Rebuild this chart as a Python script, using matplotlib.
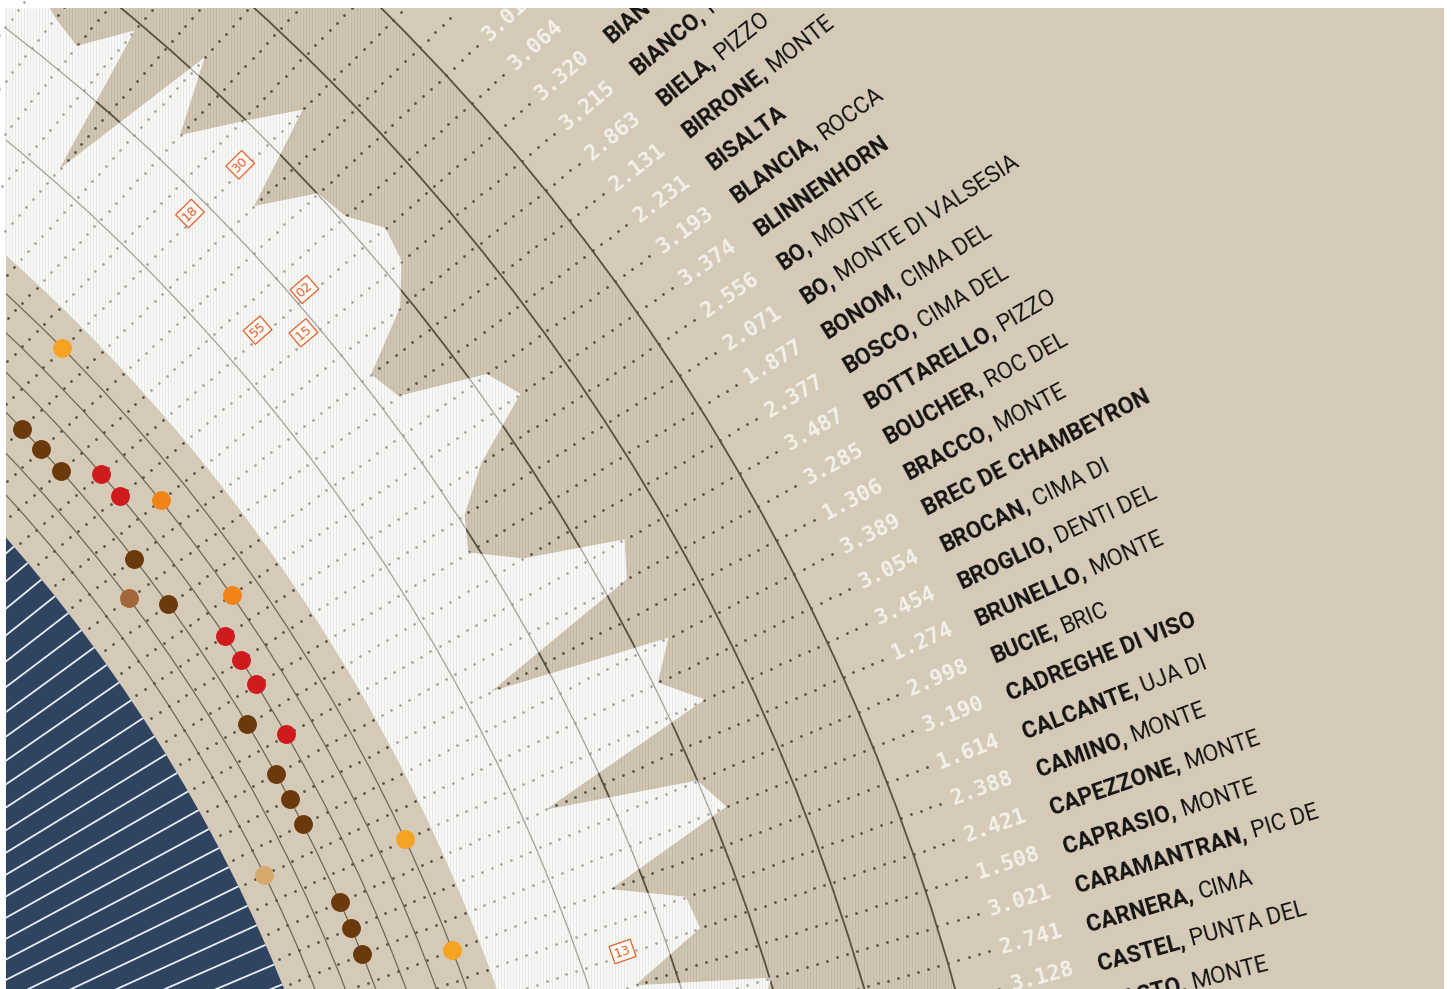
import numpy as np
import matplotlib
matplotlib.use("Agg")
import matplotlib.pyplot as plt
from matplotlib.patches import Circle, Polygon, Wedge, Rectangle
from matplotlib.collections import LineCollection
from matplotlib.font_manager import FontProperties

# ---------------- data ----------------
first_index = -13          # index of the first peak in the lists below
peak_elev_m = [2500, 2600, 2440, 2343, 2903, 1143, 3200, 2354, 2950, 3543, 2377,
               3010, 3064, 3320, 3215, 2863, 2131, 2231, 3193, 3374, 2556, 2071,
               1877, 2377, 3487, 3285, 1306, 3389, 3054, 3454, 1274, 2998, 3190,
               1614, 2388, 2421, 1508, 3021, 2741, 3128, 1137]
peak_names = [""] * 13 + [
    "BIANCO, CORNO", "BIANCO, PIZZO", "BIELA, PIZZO", "BIRRONE, MONTE", "BISALTA",
    "BLANCIA, ROCCA", "BLINNENHORN", "BO, MONTE", "BO, MONTE DI VALSESIA",
    "BONOM, CIMA DEL", "BOSCO, CIMA DEL", "BOTTARELLO, PIZZO", "BOUCHER, ROC DEL",
    "BRACCO, MONTE", "BREC DE CHAMBEYRON", "BROCAN, CIMA DI", "BROGLIO, DENTI DEL",
    "BRUNELLO, MONTE", "BUCIE, BRIC", "CADREGHE DI VISO", "CALCANTE, UJA DI",
    "CAMINO, MONTE", "CAPEZZONE, MONTE", "CAPRASIO, MONTE", "CARAMANTRAN, PIC DE",
    "CARNERA, CIMA", "CASTEL, PUNTA DEL", "CASTO, MONTE"]
first_numbered_index = -2
# category of each peak = ring on which its coloured dot sits (None = not visible)
dot_ring = [None] * 9 + [6, 3, 3, 3, 4, 4, 5, 3, 2, 3, 5, 4, 4, 4, 3, 4, 3, 3, 3, 1,
                         6, 3, 3, 3, 6, 4] + [None] * 6
ring_colors = {1: "#d6a96c", 2: "#a2673a", 3: "#6a3a0c", 4: "#cf1b1e",
               5: "#f18417", 6: "#f6a323"}
# small orange tags: text, angular position (peak index units), altitude (m)
tag_text = ["30", "18", "02", "55", "15", "13"]
tag_pos = [-4.14, -4.17, -0.19, -0.19, 0.77, 21.9]
tag_elev = [2594, 1794, 2160, 1451, 1829, 1497]
grid_elev = [1000, 2000, 3000, 4000, 5000]

# ---------------- layout ----------------
W, H = 1451, 989
BG = "#d5cab8"
CX, CY = -1180.0, 989.0 - 1580.0
TH_REF, REF_INDEX, DTH = 34.9, 6, 0.986
R_HUB, R0, PX_PER_M = 1579.0, 1778.0, 0.0875
R_NUM, R_NAME = 2270.0, 2360.0
N_RINGS = 6
SPOKE_STEP = 0.78

def ang(i):
    return TH_REF - (i - REF_INDEX) * DTH

def P(r, th):
    t = np.radians(th)
    return CX + r * np.cos(t), CY + r * np.sin(t)

def R(e):
    return R0 + np.asarray(e, dtype=float) * PX_PER_M

idx = np.arange(first_index, first_index + len(peak_elev_m))
th = ang(idx)

fig = plt.figure(figsize=(W / 100, H / 100), dpi=100, facecolor="white")
ax = fig.add_axes([6 / W, 0, (1444 - 6) / W, (989 - 8) / H])
ax.set_xlim(6, 1444)
ax.set_ylim(0, 981)
ax.axis("off")
ax.add_patch(Rectangle((6, 0), 1438, 981, fc=BG, ec="none", zorder=0))

# blue hub with white spokes
ax.add_patch(Circle((CX, CY), R_HUB, fc="#2f4461", ec="none", zorder=1))
sp_th = np.arange(5, 65, SPOKE_STEP)
segs = [[P(900, t), P(R_HUB, t)] for t in sp_th]
ax.add_collection(LineCollection(segs, colors="#e9eef4", linewidths=1.3, zorder=2))

# annulus with vertical stripes
r_top = R(grid_elev[-1])
ann = Wedge((CX, CY), r_top, 5, 65, width=r_top - R0, transform=ax.transData)
xs = np.arange(6, 1444, 3.0)
stripes = LineCollection([[(x, 0), (x, 981)] for x in xs], colors="#c5b9a5",
                         linewidths=1.0, zorder=3)
stripes.set_clip_path(ann)
ax.add_collection(stripes)

# rings (tracks) in the band
ring_r = [R_HUB + j * (R0 - R_HUB) / (N_RINGS + 1) for j in range(1, N_RINGS + 1)]
for rr in ring_r:
    ax.add_patch(Circle((CX, CY), rr, fill=False, ec="#716754", lw=0.9, zorder=4))
# elevation circles
for e in grid_elev:
    ax.add_patch(Circle((CX, CY), R(e), fill=False, ec="#5a5040", lw=1.3, zorder=4))

# dotted rays
rs = np.arange(R_HUB + 7, R_NUM - 8, 10.5)
dx, dy = [], []
for t in th:
    x, y = P(rs, t)
    dx.append(x); dy.append(y)
dx = np.concatenate(dx); dy = np.concatenate(dy)
ax.scatter(dx, dy, s=4.0, c="#5a5246", lw=0, zorder=5)

# white mountain profile
prof = [P(r, t) for r, t in zip(R(peak_elev_m), th)]
arc_t = np.linspace(th[-1], th[0], 200)
inner = [P(R0, t) for t in arc_t]
white = Polygon(prof + inner, closed=True, fc="#fcfcfb", ec="none", zorder=6)
ax.add_patch(white)
st2 = LineCollection([[(x, 0), (x, 981)] for x in xs], colors="#e8e8e7",
                     linewidths=1.0, zorder=7)
st2.set_clip_path(white)
ax.add_collection(st2)
for e in grid_elev:
    c = Circle((CX, CY), R(e), fill=False, ec="#a3a19d", lw=0.9, zorder=8)
    ax.add_patch(c)
    c.set_clip_path(white)
sc = ax.scatter(dx, dy, s=3.5, c="#a09e99", lw=0, zorder=8)
sc.set_clip_path(white)

# coloured category dots
for t, ring in zip(th, dot_ring):
    if ring is None:
        continue
    x, y = P(ring_r[ring - 1], t)
    ax.scatter([x], [y], s=185, c=ring_colors[ring], lw=0, zorder=9)

# orange tags
for s, p, e in zip(tag_text, tag_pos, tag_elev):
    t = ang(p)
    x, y = P(R(e), t)
    ax.text(x, y, s, rotation=t, rotation_mode="anchor", ha="center", va="center",
            fontsize=9.5, color="#e3612a", family="DejaVu Sans", zorder=10,
            bbox=dict(boxstyle="square,pad=0.2", fc="#fffaf6", ec="#e3612a", lw=0.9))

# labels
fig.canvas.draw()
rend = fig.canvas.get_renderer()
fp_b = FontProperties(family="Roboto", weight="bold", size=16.5)
fp_r = FontProperties(family="Roboto", weight="normal", size=16.5)
fp_n = FontProperties(family="DejaVu Sans Mono", weight="bold", size=15.5)
w_space = rend.get_text_width_height_descent("A A", fp_r, ismath=False)[0] - \
    rend.get_text_width_height_descent("AA", fp_r, ismath=False)[0]

for i, t, e, name in zip(idx, th, peak_elev_m, peak_names):
    if i >= first_numbered_index:
        x, y = P(R_NUM, t)
        ax.text(x, y, f"{e / 1000:.3f}", rotation=t, rotation_mode="anchor",
                ha="left", va="center", fontproperties=fp_n, color="#f4f1ea",
                zorder=10, clip_on=True)
    if name:
        if "," in name:
            b, rest = name.split(",", 1)
            b = b + ","
            rest = rest.strip()
        else:
            b, rest = name, ""
        x, y = P(R_NAME, t)
        ax.text(x, y, b, rotation=t, rotation_mode="anchor", ha="left",
                va="center_baseline", fontproperties=fp_b, color="#151412",
                zorder=10, clip_on=True)
        if rest:
            wb = rend.get_text_width_height_descent(b, fp_b, ismath=False)[0]
            x2, y2 = P(R_NAME + wb + w_space, t)
            ax.text(x2, y2, rest, rotation=t, rotation_mode="anchor", ha="left",
                    va="center_baseline", fontproperties=fp_r, color="#151412",
                    zorder=10, clip_on=True)

fig.savefig("out.png", dpi=100, facecolor="white")
